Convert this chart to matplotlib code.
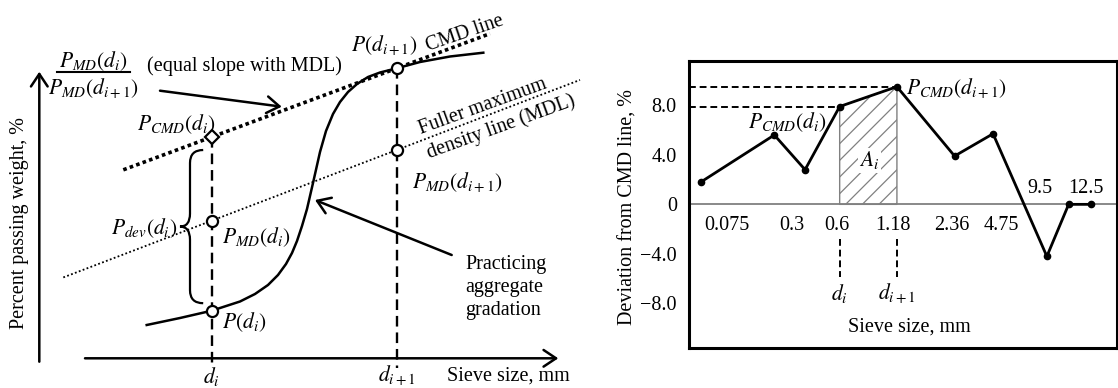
import matplotlib.pyplot as plt
from matplotlib.path import Path
from matplotlib.patches import PathPatch

plt.rcParams['font.family'] = ['Liberation Serif', 'DejaVu Serif']
plt.rcParams['mathtext.fontset'] = 'stix'
plt.rcParams['hatch.linewidth'] = 0.9
plt.rcParams['hatch.color'] = 'gray'
FS = 14.5    # plain text
MS = 15.5    # math labels

# ---------- left sketch (figure pixels, y grows downward) ----------
sieve_x = [211.7, 396.7]        # d_i, d_{i+1}
mdl_y = [220.7, 150.0]          # Fuller MDL at d_i, d_{i+1}
cmd_y = [137.0, 68.3]           # CMD line at d_i, d_{i+1}
p_at_di = 310.7                 # P(d_i)
mdl_ends = [63.3, 580.0]
cmd_ends = [123.3, 490.0]
grad_x = [146.7, 180, 211.7, 240, 255, 268, 278, 286, 292, 297, 302, 307,
          313.3, 320, 326, 333, 340, 348, 357, 368, 380, 396.7, 420, 450, 483.3]
grad_y = [325, 318, 310.7, 301.5, 294, 285, 275, 264, 253, 241, 226, 209,
          181.7, 152, 131, 114, 102, 92, 84, 77, 72.5, 68.3, 62, 56.5, 52.7]

# ---------- right chart ----------
point_pos = [2.7, 19.9, 27.1, 35.2, 48.6, 62.1, 71.1, 83.7, 88.8, 94.1]
deviation = [1.8, 5.6, 2.8, 7.9, 9.5, 3.9, 5.7, -4.2, 0.0, 0.0]
sieve_labels = ['0.075', '0.3', '0.6', '1.18', '2.36', '4.75', '9.5', '12.5']
label_pos = [8.9, 24.1, 34.6, 47.7, 61.4, 73.0, 82.0, 92.9]
yticks = [-8, -4, 0, 4, 8]
ytick_labels = ['\u22128.0', '\u22124.0', '0', '4.0', '8.0']

W, H = 1118, 388
fig = plt.figure(figsize=(W / 100, H / 100), dpi=100)

sk = fig.add_axes([0, 0, 1, 1])
sk.set_xlim(0, W)
sk.set_ylim(H, 0)
sk.axis('off')

def line_at(x, p0, p1):
    slope = (p1[1] - p0[1]) / (p1[0] - p0[0])
    return p0[1] + slope * (x - p0[0])

arrow = dict(arrowstyle='->,head_length=0.45,head_width=0.3', lw=1.8,
             color='k', shrinkA=0, shrinkB=0, mutation_scale=20)

# axes arrows
sk.annotate('', xy=(39.3, 71.7), xytext=(39.3, 361.7), arrowprops=arrow)
sk.annotate('', xy=(558.3, 358.3), xytext=(85, 358.3), arrowprops=arrow)

# Fuller MDL and CMD line
mdl_pts = [(sieve_x[0], mdl_y[0]), (sieve_x[1], mdl_y[1])]
cmd_pts = [(sieve_x[0], cmd_y[0]), (sieve_x[1], cmd_y[1])]
sk.plot(mdl_ends, [line_at(x, *mdl_pts) for x in mdl_ends], color='k',
        lw=1.3, linestyle=(0, (1, 1.3)))
sk.plot(cmd_ends, [line_at(x, *cmd_pts) for x in cmd_ends], color='k',
        lw=2.6, linestyle=(0, (1, 0.9)))

# vertical dashed at d_i and d_{i+1}
sk.plot([sieve_x[0]] * 2, [cmd_y[0], 368], color='k', lw=1.7, linestyle=(0, (4.5, 2.5)))
sk.plot([sieve_x[1]] * 2, [cmd_y[1], 368], color='k', lw=1.7, linestyle=(0, (4.5, 2.5)))

# gradation curve
sk.plot(grad_x, grad_y, color='k', lw=1.8, solid_joinstyle='round')

# markers
mk = dict(color='k', mfc='white', mew=1.6, linestyle='none', zorder=5)
sk.plot(sieve_x, [p_at_di, cmd_y[1]], marker='o', ms=8, **mk)
sk.plot(sieve_x, mdl_y, marker='o', ms=8, **mk)
sk.plot([sieve_x[0]], [cmd_y[0]], marker='D', ms=7, **mk)

# brace between P_CMD(d_i) and P(d_i)
bx, tip = 190, 180
top, bot = cmd_y[0] + 13, p_at_di - 7.5
mid = (top + bot) / 2
r = 13
verts = [(sieve_x[0] - 8.5, top), (bx, top), (bx, top + r),
         (bx, mid - r), (bx, mid), (tip, mid),
         (bx, mid), (bx, mid + r),
         (bx, bot - r), (bx, bot), (sieve_x[0] - 8.5, bot)]
codes = [Path.MOVETO, Path.CURVE3, Path.CURVE3,
         Path.LINETO, Path.CURVE3, Path.CURVE3,
         Path.CURVE3, Path.CURVE3,
         Path.LINETO, Path.CURVE3, Path.CURVE3]
sk.add_patch(PathPatch(Path(verts, codes), fill=False, lw=1.6, color='k'))

# pointer arrows
sk.annotate('', xy=(281.7, 106.7), xytext=(160, 90.7), arrowprops=arrow)
sk.annotate('', xy=(315, 200), xytext=(451.7, 255), arrowprops=arrow)

# text
t = dict(fontsize=FS, ha='center', va='center')
m = dict(fontsize=MS, ha='center', va='center')
sk.text(93, 61, r'$P_{MD}(d_i)$', **m)
sk.plot([57, 130], [72, 72], color='k', lw=1.5)
sk.text(93, 88.3, r'$P_{MD}(d_{i+1})$', **m)
sk.text(146.7, 66.5, '(equal slope with MDL)', fontsize=FS, ha='left', va='center')
sk.text(176.7, 124, r'$P_{CMD}(d_i)$', **m)
sk.text(144, 228.3, r'$P_{dev}(d_i)$', **m)
sk.text(256.7, 236.7, r'$P_{MD}(d_i)$', **m)
sk.text(244, 321.7, r'$P(d_i)$', **m)
sk.text(384.7, 45, r'$P(d_{i+1})$', **m)
sk.text(457.5, 181.7, r'$P_{MD}(d_{i+1})$', **m)
sk.text(465, 33.3, 'CMD line', rotation=19, rotation_mode='anchor', **t)
sk.text(482.5, 106.7, 'Fuller maximum', rotation=20, rotation_mode='anchor', **t)
sk.text(500.7, 126.7, 'density line (MDL)', rotation=20, rotation_mode='anchor', **t)
sk.text(465, 287.5, 'Practicing\naggregate\ngradation', fontsize=FS,
        ha='left', va='center', linespacing=1.3)
sk.text(20, 223, 'Percent passing weight, %', rotation=90, **t)
sk.text(sieve_x[0], 376, r'$d_i$', **m)
sk.text(sieve_x[1], 376, r'$d_{i+1}$', **m)
sk.text(508.3, 376, 'Sieve size, mm', **t)

# ---------- right chart ----------
ax = fig.add_axes([689.3 / W, 1 - 348 / H, (1116.5 - 689.3) / W, (348 - 60.7) / H])
ax.set_xlim(0, 100)
ax.set_ylim(-11.6, 11.6)
for s in ax.spines.values():
    s.set_linewidth(2.2)
ax.set_xticks([])
ax.set_yticks(yticks)
ax.set_yticklabels(ytick_labels, fontsize=FS)
ax.tick_params(axis='y', length=0, pad=9)
ax.set_ylabel('Deviation from CMD line, %', fontsize=FS)
ax.yaxis.set_label_coords(-0.12, 0.49)

ax.axhline(0, color='gray', lw=1.3)
ax.fill_between(point_pos[3:5], deviation[3:5], 0, facecolor='white',
                edgecolor='gray', hatch='//', lw=1.0)
for k in (3, 4):
    ax.plot([0, point_pos[k]], [deviation[k]] * 2, color='k', lw=1.4,
            linestyle=(0, (3.5, 2)))
    ax.plot([point_pos[k]] * 2, [-2.8, -5.9], color='k', lw=1.4,
            linestyle=(0, (3.5, 2)))
ax.plot(point_pos, deviation, color='k', lw=2.0, marker='o', ms=4.5, zorder=4)

for lab, x in zip(sieve_labels, label_pos):
    y = 1.3 if lab in ('9.5', '12.5') else -1.7
    ax.text(x, y, lab, fontsize=FS, ha='center', va='center')

ax.text(point_pos[3], -7.2, r'$d_i$', fontsize=MS, ha='center', va='center')
ax.text(point_pos[4], -7.2, r'$d_{i+1}$', fontsize=MS, ha='center', va='center')
ax.text(51.6, -9.9, 'Sieve size, mm', fontsize=FS, ha='center', va='center')
ax.text(22.9, 6.66, r'$P_{CMD}(d_i)$', fontsize=MS, ha='center', va='center')
ax.text(50.8, 9.37, r'$P_{CMD}(d_{i+1})$', fontsize=MS, ha='left', va='center')
ax.text(42.2, 3.56, r'$A_i$', fontsize=MS, ha='center', va='center',
        bbox=dict(facecolor='white', edgecolor='none', pad=1))

fig.savefig('out.png', dpi=100)
